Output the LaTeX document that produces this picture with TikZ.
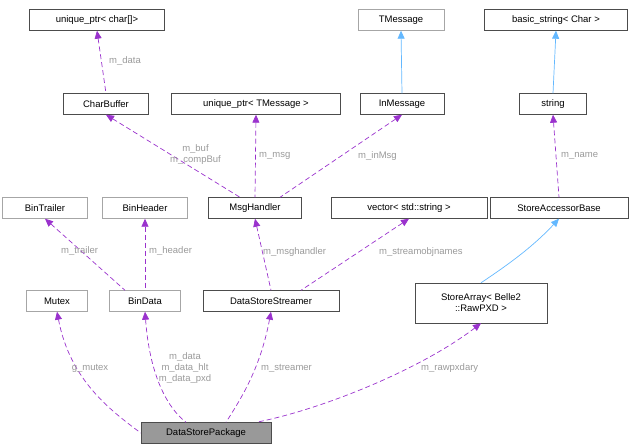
\documentclass[tikz,border=0pt]{standalone}
\usepackage{fontspec}
\setmainfont{Liberation Sans}
\usetikzlibrary{arrows.meta}
\definecolor{purp}{HTML}{9A32CD}
\definecolor{blu}{HTML}{63B8FF}
\definecolor{lbl}{HTML}{9A9A9A}
\begin{document}
\begin{tikzpicture}[x=1pt,y=-1pt,
  box/.style={draw=black!70,fill=white,inner sep=0pt,minimum height=21pt,font=\fontsize{9.5}{11}\selectfont,align=center},
  gbox/.style={box,draw=black!35},
  use/.style={purp,dash pattern=on 5pt off 3pt,line width=0.7pt,{Triangle[width=7pt,length=8pt]}-},
  inh/.style={blu,line width=0.7pt,{Triangle[width=7pt,length=8pt]}-},
  lab/.style={lbl,font=\fontsize{9.5}{11}\selectfont,inner sep=1pt,align=center}]
\useasboundingbox (0,0) rectangle (637,447);
\node[box,minimum width=135pt] (upc) at (97,20) {unique\_ptr< char[]>};
\node[box,minimum width=85pt] (cb) at (106,104) {CharBuffer};
\node[box,minimum width=169pt] (upt) at (256,104) {unique\_ptr< TMessage >};
\node[gbox,minimum width=86pt] (tm) at (401,20) {TMessage};
\node[box,minimum width=84pt] (im) at (402,104) {InMessage};
\node[box,minimum width=143pt] (bs) at (556,20) {basic\_string< Char >};
\node[box,minimum width=67pt] (str) at (553,104) {string};
\node[gbox,minimum width=85pt] (bt) at (45,208) {BinTrailer};
\node[gbox,minimum width=85pt] (bh) at (145,208) {BinHeader};
\node[box,minimum width=93pt] (mh) at (255,208) {MsgHandler};
\node[box,minimum width=156pt] (vs) at (409,208) {vector< std::string >};
\node[box,minimum width=138pt] (sab) at (559,208) {StoreAccessorBase};
\node[gbox,minimum width=61pt] (mx) at (57,301) {Mutex};
\node[gbox,minimum width=71pt] (bd) at (145,301) {BinData};
\node[box,minimum width=136pt] (dss) at (271,301) {DataStoreStreamer};
\node[box,minimum width=132pt,minimum height=40pt] (sa) at (481,303) {StoreArray< Belle2\\::RawPXD >};
\node[box,fill=black!40,minimum width=130pt] (dsp) at (206,433) {DataStorePackage};

\draw[use] (upc.south) -- (cb.north);
\node[lab,anchor=west] at (108,61) {m\_data};
\draw[inh] (tm.south) -- (im.north);
\draw[inh] (bs.south) -- (str.north);
\draw[use] (cb.south) -- ([xshift=-15pt]mh.north);
\draw[use] (upt.south) -- (mh.north);
\draw[use] (im.south) -- ([xshift=25pt]mh.north);
\draw[use] (str.south) -- (sab.north);
\node[lab,anchor=east] at (222,155) {m\_buf\\m\_compBuf};
\node[lab,anchor=west] at (258,156) {m\_msg};
\node[lab,anchor=west] at (357,156) {m\_inMsg};
\node[lab,anchor=west] at (560,156) {m\_name};
\draw[use] (bt.south) -- ([xshift=-20pt]bd.north);
\draw[use] (bh.south) -- (bd.north);
\node[lab,anchor=west] at (60,251) {m\_trailer};
\node[lab,anchor=west] at (148,251) {m\_header};
\draw[use] (mh.south) -- (dss.north);
\draw[use] (vs.south) -- ([xshift=30pt]dss.north);
\node[lab,anchor=west] at (262,252) {m\_msghandler};
\node[lab,anchor=west] at (378,252) {m\_streamobjnames};
\draw[inh] (sab.south) .. controls (530,250) and (500,270) .. (sa.north);
\draw[use] (mx.south) .. controls (70,380) and (110,410) .. (dsp.west);
\node[lab] at (90,368) {g\_mutex};
\draw[use] (bd.south) .. controls (150,380) and (170,410) .. ([xshift=-20pt]dsp.north);
\node[lab] at (185,368) {m\_data\\m\_data\_hlt\\m\_data\_pxd};
\draw[use] (dss.south) .. controls (260,370) and (240,400) .. ([xshift=20pt]dsp.north);
\node[lab,anchor=west] at (260,368) {m\_streamer};
\draw[use] (sa.south) .. controls (420,370) and (320,410) .. ([xshift=50pt]dsp.north);
\node[lab,anchor=west] at (420,368) {m\_rawpxdary};
\end{tikzpicture}
\end{document}
